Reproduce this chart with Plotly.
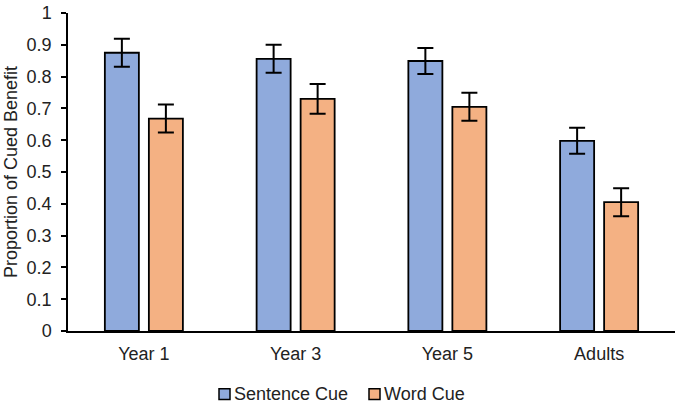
import plotly.graph_objects as go

categories = ["Year 1", "Year 3", "Year 5", "Adults"]
sentence_cue = [0.875, 0.856, 0.849, 0.598]
sentence_err = [0.044, 0.044, 0.041, 0.041]
word_cue = [0.668, 0.730, 0.705, 0.405]
word_err = [0.044, 0.047, 0.044, 0.044]
series_names = ["Sentence Cue", "Word Cue"]
series_colors = ["#8FAADC", "#F4B183"]

FONT = "Liberation Sans, Arial, sans-serif"
W, H = 678, 404
L, R, T, B = 68, 3, 11, 73

fig = go.Figure()
for name, vals, errs, col in zip(series_names, [sentence_cue, word_cue],
                                 [sentence_err, word_err], series_colors):
    fig.add_trace(go.Bar(
        name=name, x=categories, y=vals,
        marker=dict(color=col, line=dict(color="black", width=1.8)),
        error_y=dict(type="data", array=errs, color="black", thickness=2, width=8),
        showlegend=False,
    ))

# custom legend (pixel positions converted to paper coords)
pw, ph = W - L - R, H - T - B
def px(x): return (x - L) / pw
def py(y): return (H - B - y) / ph

legend_items = [(219, series_names[0], series_colors[0]),
                (369, series_names[1], series_colors[1])]
for x0, name, col in legend_items:
    fig.add_shape(type="rect", xref="paper", yref="paper",
                  x0=px(x0), x1=px(x0 + 11), y0=py(400), y1=py(389),
                  fillcolor=col, line=dict(color="black", width=1.5))
    fig.add_annotation(xref="paper", yref="paper", x=px(x0 + 12.5), y=py(394.5),
                       text=name, showarrow=False, xanchor="left", yanchor="middle",
                       font=dict(size=18, family=FONT, color="#222222"))

fig.update_layout(
    width=W, height=H,
    margin=dict(l=L, r=R, t=T, b=B),
    paper_bgcolor="white", plot_bgcolor="white",
    barmode="group", bargap=0.42, bargroupgap=0.227,
    font=dict(family=FONT, size=18, color="#222222"),
    showlegend=False,
)
fig.update_xaxes(
    showline=True, linecolor="black", linewidth=1.5,
    ticks="", showgrid=False, ticklabelstandoff=6,
)
fig.update_yaxes(
    range=[0, 1], dtick=0.1, showline=True, linecolor="black", linewidth=1.5,
    ticks="outside", ticklen=5, tickcolor="black", tickwidth=1.5,
    showgrid=False, zeroline=False, ticklabelstandoff=6,
    title=dict(text="Proportion of Cued Benefit", standoff=4, font=dict(size=18)),
)

fig.write_html("out.html", config={"displayModeBar": False},
               post_script="document.body.style.margin='0';document.body.style.overflow='hidden';")
